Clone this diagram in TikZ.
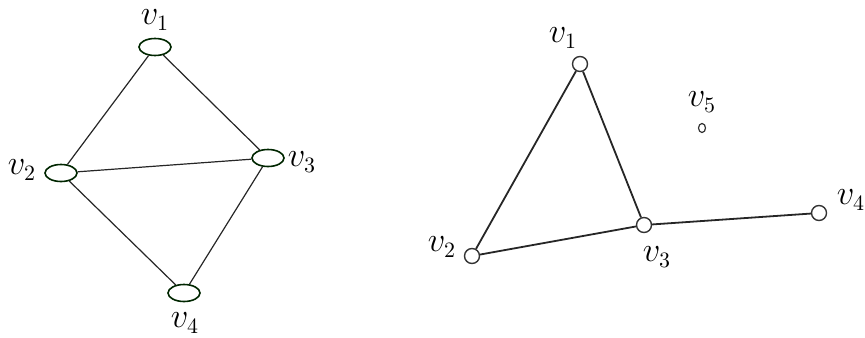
\documentclass[tikz,border=0pt]{standalone}
\usetikzlibrary{shapes.geometric}
\usepackage{amsmath,amssymb}

\begin{document}
\begin{tikzpicture}[x=0.5pt,y=-0.5pt,
    vert/.style={ellipse,draw=black!75!green!60!black,line width=0.8pt,minimum width=16pt,minimum height=8.5pt,inner sep=0pt},
    dot/.style={circle,draw=black!80,line width=0.7pt,minimum size=7.5pt,inner sep=0pt},
    tiny/.style={ellipse,draw=black!80,line width=0.6pt,minimum width=3.5pt,minimum height=4.5pt,inner sep=0pt},
    lbl/.style={inner sep=0pt,font=\fontsize{16}{18}\selectfont},
    edge/.style={black!85,line width=0.6pt},
    bedge/.style={black!85,line width=0.9pt}]
  \useasboundingbox (0,0) rectangle (865,337);
  % first graph
  \node[vert] (a1) at (155,47) {};
  \node[vert] (a2) at (61,173) {};
  \node[vert] (a3) at (268,158) {};
  \node[vert] (a4) at (184,293) {};
  \node[lbl] (la1) at (155,20) {$v_1$};
  \node[lbl] (la2) at (22,170) {$v_2$};
  \node[lbl] (la3) at (302,162) {$v_3$};
  \node[lbl] (la4) at (185,323) {$v_4$};
  \draw[edge] (a1) -- (a2) (a1) -- (a3) (a2) -- (a3) (a2) -- (a4) (a3) -- (a4);
  % second graph
  \node[dot] (b1) at (580,64) {};
  \node[dot] (b2) at (472,256) {};
  \node[dot] (b3) at (644,225) {};
  \node[dot] (b4) at (819,213) {};
  \node[tiny] (b5) at (702,128) {};
  \node[lbl] (lb1) at (563,38) {$v_1$};
  \node[lbl] (lb2) at (442,247) {$v_2$};
  \node[lbl] (lb3) at (657,257) {$v_3$};
  \node[lbl] (lb4) at (851,200) {$v_4$};
  \node[lbl] (lb5) at (702,102) {$v_5$};
  \draw[bedge] (b1) -- (b2) (b1) -- (b3) (b2) -- (b3) (b3) -- (b4);
\end{tikzpicture}
\end{document}
